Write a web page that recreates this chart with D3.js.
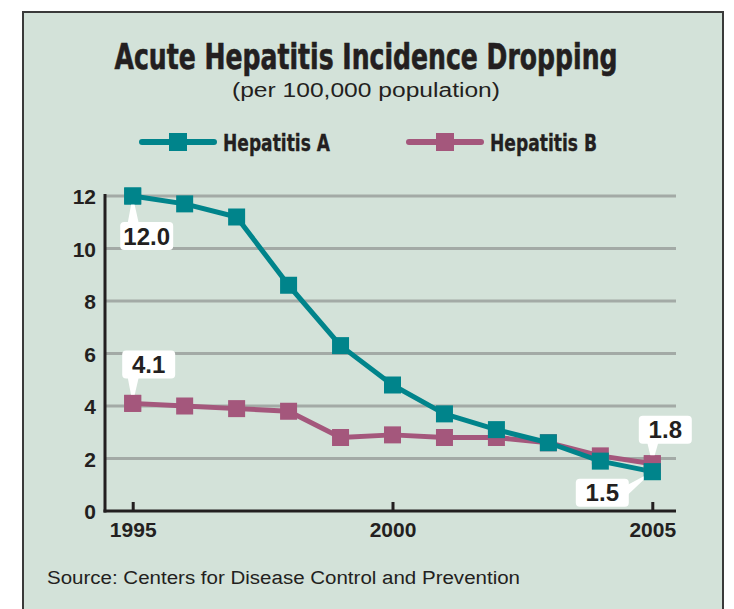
<!DOCTYPE html>
<html>
<head>
<meta charset="utf-8">
<script src="https://cdn.jsdelivr.net/npm/d3@7"></script>
<style>
  body { margin: 0; background: #fff; }
  svg { display: block; }
  .cond { font-family: "Liberation Sans Narrow", "DejaVu Sans Condensed", sans-serif; font-weight: bold; font-stretch: condensed; fill: #231f20; }
  .plain { font-family: "Liberation Sans", Arial, sans-serif; fill: #231f20; }
  .tick text { font-family: "Liberation Sans", Arial, sans-serif; font-weight: bold; font-size: 21px; fill: #231f20; }
</style>
</head>
<body>
<svg width="734" height="609"></svg>
<script>
const years = [1995, 1996, 1997, 1998, 1999, 2000, 2001, 2002, 2003, 2004, 2005];
const hepA = [12.0, 11.7, 11.2, 8.6, 6.3, 4.8, 3.7, 3.1, 2.6, 1.9, 1.5];
const hepB = [4.1, 4.0, 3.9, 3.8, 2.8, 2.9, 2.8, 2.8, 2.6, 2.1, 1.8];
const seriesNames = ["Hepatitis A", "Hepatitis B"];
const yTicks = [0, 2, 4, 6, 8, 10, 12];
const xTicks = [1995, 2000, 2005];

const colA = "#00848b";
const colB = "#a4577c";
const bg = "#d3e2d9";
const ink = "#231f20";

const svg = d3.select("svg");

// panel
svg.append("rect")
    .attr("x", 23).attr("y", 12)
    .attr("width", 700).attr("height", 610)
    .attr("fill", bg)
    .attr("stroke", "#3a3a3a")
    .attr("stroke-width", 2);

svg.append("text")
    .attr("class", "cond")
    .attr("x", 366).attr("y", 69)
    .attr("text-anchor", "middle")
    .attr("font-size", 36)
    .attr("stroke", ink)
    .attr("stroke-width", 0.6)
    .attr("textLength", 503)
    .attr("lengthAdjust", "spacingAndGlyphs")
    .text("Acute Hepatitis Incidence Dropping");

svg.append("text")
    .attr("class", "plain")
    .attr("x", 366).attr("y", 97)
    .attr("text-anchor", "middle")
    .attr("font-size", 20)
    .attr("textLength", 268)
    .attr("lengthAdjust", "spacingAndGlyphs")
    .text("(per 100,000 population)");

const xScale = d3.scaleLinear().domain([1995, 2005]).range([132.7, 652.3]);
const yScale = d3.scaleLinear().domain([0, 12]).range([511, 196]);

// gridlines
svg.append("g")
    .selectAll("line")
    .data(yTicks.filter(d => d > 0))
    .join("line")
    .attr("x1", 105).attr("x2", 676)
    .attr("y1", d => yScale(d)).attr("y2", d => yScale(d))
    .attr("stroke", "#a3aaa6")
    .attr("stroke-width", 3);

// y axis
const yAxis = svg.append("g")
    .attr("transform", "translate(105,0)")
    .call(d3.axisLeft(yScale).tickValues(yTicks).tickSize(0).tickPadding(9).tickFormat(d3.format("d")));
yAxis.select(".domain").remove();
yAxis.selectAll(".tick text").attr("dy", "0.36em");
svg.append("line")
    .attr("x1", 105).attr("x2", 105)
    .attr("y1", yScale(12) - 2).attr("y2", yScale(0) + 1.5)
    .attr("stroke", ink).attr("stroke-width", 3);

// x axis
const xAxis = svg.append("g")
    .attr("transform", `translate(0,${yScale(0)})`)
    .call(d3.axisBottom(xScale).tickValues(xTicks).tickSize(-9).tickPadding(11).tickFormat(d3.format("d")));
xAxis.select(".domain").remove();
xAxis.selectAll(".tick line").attr("stroke", ink).attr("stroke-width", 3);
xAxis.selectAll(".tick text").attr("dy", "0.71em");
svg.append("line")
    .attr("x1", 103.5).attr("x2", 676)
    .attr("y1", yScale(0)).attr("y2", yScale(0))
    .attr("stroke", ink).attr("stroke-width", 3);

// series
const series = [
    { name: seriesNames[1], values: hepB, color: colB },
    { name: seriesNames[0], values: hepA, color: colA }
];

const line = d3.line()
    .x((d, i) => xScale(years[i]))
    .y(d => yScale(d));

const ms = 17;

series.forEach(s => {
    svg.append("path")
        .datum(s.values)
        .attr("fill", "none")
        .attr("stroke", s.color)
        .attr("stroke-width", 5)
        .attr("stroke-linejoin", "round")
        .attr("d", line);
    svg.append("g")
        .selectAll("rect")
        .data(s.values)
        .join("rect")
        .attr("x", (d, i) => xScale(years[i]) - ms / 2)
        .attr("y", d => yScale(d) - ms / 2)
        .attr("width", ms).attr("height", ms)
        .attr("fill", s.color);
});

// legend
const legend = [
    { name: seriesNames[0], color: colA, x: 140 },
    { name: seriesNames[1], color: colB, x: 407 }
];
legend.forEach(l => {
    const g = svg.append("g").attr("transform", `translate(${l.x},142)`);
    g.append("line")
        .attr("x1", 2).attr("x2", 74)
        .attr("stroke", l.color).attr("stroke-width", 6).attr("stroke-linecap", "round");
    g.append("rect")
        .attr("x", 29).attr("y", -9).attr("width", 18).attr("height", 18)
        .attr("fill", l.color);
    g.append("text")
        .attr("class", "cond")
        .attr("x", 83).attr("y", 9)
        .attr("font-size", 23)
        .attr("stroke", ink)
        .attr("stroke-width", 0.3)
        .attr("textLength", 107)
        .attr("lengthAdjust", "spacingAndGlyphs")
        .text(l.name);
});

// callouts: box offset from point (dx,dy = box center relative to point)
const callouts = [
    { value: hepA[0], year: years[0], dx: 14, dy: 40 },
    { value: hepB[0], year: years[0], dx: 16, dy: -39 },
    { value: hepB[10], year: years[10], dx: 13, dy: -34 },
    { value: hepA[10], year: years[10], dx: -50, dy: 21 }
];
const bw = 53, bh = 28;
callouts.forEach(c => {
    const px = xScale(c.year), py = yScale(c.value);
    const cx = px + c.dx, cy = py + c.dy;
    const g = svg.append("g");
    // pointer
    let base;
    if (Math.abs(c.dy) > 30) {
        const edgeY = c.dy > 0 ? cy - bh / 2 + 1 : cy + bh / 2 - 1;
        const bx = Math.max(cx - bw / 2 + 6, Math.min(px, cx + bw / 2 - 6));
        base = [[bx - 5, edgeY], [bx + 6, edgeY]];
    } else {
        const edgeX = cx + bw / 2 - 1;
        base = [[edgeX, cy - 8], [edgeX, cy + 2]];
    }
    g.append("path")
        .attr("d", `M${base[0][0]},${base[0][1]}L${px},${py}L${base[1][0]},${base[1][1]}Z`)
        .attr("fill", "#fff");
    g.append("rect")
        .attr("x", cx - bw / 2).attr("y", cy - bh / 2)
        .attr("width", bw).attr("height", bh)
        .attr("rx", 4)
        .attr("fill", "#fff");
    g.append("text")
        .attr("class", "plain")
        .attr("x", cx).attr("y", cy + 8.5)
        .attr("text-anchor", "middle")
        .attr("font-size", 24)
        .attr("font-weight", "bold")
        .text(d3.format(".1f")(c.value));
});

// redraw end markers above pointers
[[hepA, colA, 0], [hepB, colB, 0], [hepB, colB, 10], [hepA, colA, 10]].forEach(([vals, col, i]) => {
    svg.append("rect")
        .attr("x", xScale(years[i]) - ms / 2)
        .attr("y", yScale(vals[i]) - ms / 2)
        .attr("width", ms).attr("height", ms)
        .attr("fill", col);
});

svg.append("text")
    .attr("class", "plain")
    .attr("x", 47).attr("y", 584)
    .attr("font-size", 18)
    .attr("textLength", 473)
    .attr("lengthAdjust", "spacingAndGlyphs")
    .text("Source: Centers for Disease Control and Prevention");
</script>
</body>
</html>
